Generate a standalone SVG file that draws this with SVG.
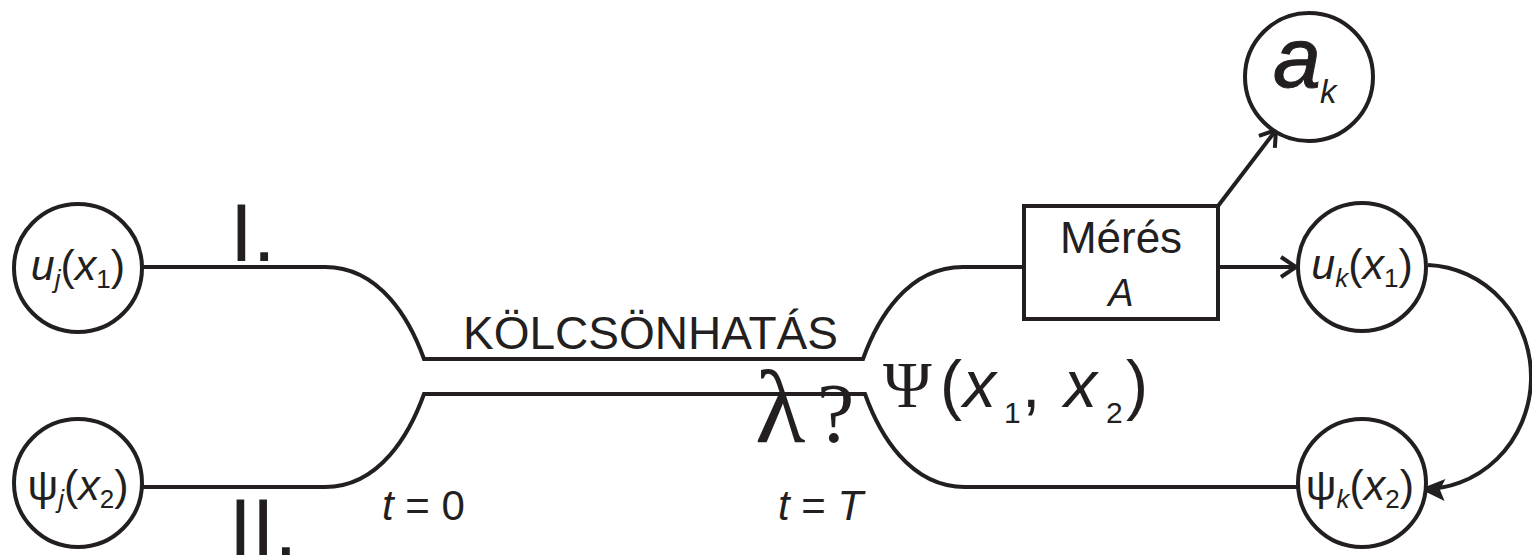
<svg xmlns="http://www.w3.org/2000/svg" width="1532" height="555" viewBox="0 0 1532 555">
<style>
.ln{fill:none;stroke:#231f20;stroke-width:4}
.nd{fill:#fff;stroke:#231f20;stroke-width:4}
.tx{font-family:"Liberation Sans",Arial,sans-serif;fill:#231f20}
.sr{font-family:"Liberation Serif","Times New Roman",serif;fill:#231f20}
.i{font-style:italic}
.nl{font-size:43px}
.sb{font-size:26px}
.th{stroke:#231f20;stroke-width:1}
</style>
<defs>
<marker id="open" viewBox="-17 -12 19 24" refX="0" refY="0" markerWidth="19" markerHeight="24" orient="auto" markerUnits="userSpaceOnUse">
<path d="M-15,-10 L0,0 L-15,10" fill="none" stroke="#231f20" stroke-width="4"/>
</marker>
<marker id="fill" viewBox="-26 -13 28 26" refX="0" refY="0" markerWidth="28" markerHeight="26" orient="auto" markerUnits="userSpaceOnUse">
<path d="M0,0 L-25,-11 L-20,0 L-25,11 Z" fill="#231f20"/>
</marker>
</defs>
<rect width="1532" height="555" fill="#fff"/>
<g id="connectors">
<path class="ln" d="M142,267 L325,267 C380,267 410,320 424,359 L863,359 C877,320 907,267 963,267 L1024,267"/>
<path class="ln" d="M142,487 L325,487 C380,487 410,433 424,394 L865,394 C879,433 909,487 965,487 L1297,487"/>
<path class="ln" d="M1218,267 L1296,267" marker-end="url(#open)"/>
<path class="ln" d="M1218,206 L1276,130" marker-end="url(#open)"/>
<path class="ln" d="M1428,265 A107 112 0 0 1 1420,489" marker-end="url(#fill)"/>
</g>
<g id="node-uj">
<circle class="nd" cx="78" cy="268" r="64"/>
<text class="tx nl" x="78" y="280" text-anchor="middle"><tspan class="i">u</tspan><tspan class="i sb" dy="8">j</tspan><tspan dy="-8">(</tspan><tspan class="i">x</tspan><tspan class="sb" dy="8">1</tspan><tspan dy="-8">)</tspan></text>
</g>
<g id="node-psij">
<circle class="nd" cx="78" cy="483" r="64"/>
<text class="tx nl" x="78" y="500" text-anchor="middle">ψ<tspan class="i sb" dy="8">j</tspan><tspan dy="-8">(</tspan><tspan class="i">x</tspan><tspan class="sb" dy="8">2</tspan><tspan dy="-8">)</tspan></text>
</g>
<g id="node-uk">
<circle class="nd" cx="1362" cy="267" r="64"/>
<text class="tx nl" x="1362" y="279" text-anchor="middle"><tspan class="i">u</tspan><tspan class="i sb" dy="8">k</tspan><tspan dy="-8">(</tspan><tspan class="i">x</tspan><tspan class="sb" dy="8">1</tspan><tspan dy="-8">)</tspan></text>
</g>
<g id="node-psik">
<circle class="nd" cx="1362" cy="483" r="64"/>
<text class="tx nl" x="1360" y="500" text-anchor="middle">ψ<tspan class="i sb" dy="8">k</tspan><tspan dy="-8">(</tspan><tspan class="i">x</tspan><tspan class="sb" dy="8">2</tspan><tspan dy="-8">)</tspan></text>
</g>
<g id="node-ak">
<circle class="nd" cx="1309" cy="77" r="64"/>
<text class="tx i th" x="1273" y="87" font-size="86">a</text>
<text class="tx i" x="1320" y="103" font-size="33">k</text>
</g>
<g id="node-meres">
<rect class="nd" x="1024" y="206" width="194" height="113"/>
<text class="tx" x="1121" y="253" text-anchor="middle" font-size="44">Mérés</text>
<text class="tx i" x="1121" y="306" text-anchor="middle" font-size="38">A</text>
</g>
<g id="labels">
<text class="tx" x="230" y="261" font-size="82">I.</text>
<text class="tx" x="229" y="556" font-size="82">II.</text>
<text class="tx" x="463" y="349" font-size="46">KÖLCSÖNHATÁS</text>
<text class="sr" y="442"><tspan x="755" font-size="104">λ</tspan><tspan x="817" font-size="84">?</tspan></text>
<text class="sr" x="883" y="407" font-size="66">Ψ</text>
<text class="tx" font-size="66" y="407"><tspan x="940">(</tspan><tspan class="i" x="963">x</tspan><tspan x="1004" dy="16" font-size="30">1</tspan><tspan x="1022" dy="-16">,</tspan><tspan class="i" x="1064">x</tspan><tspan x="1106" dy="16" font-size="30">2</tspan><tspan x="1126" dy="-16">)</tspan></text>
<text class="tx" x="382" y="520" font-size="42"><tspan class="i">t</tspan> = 0</text>
<text class="tx" x="778" y="520" font-size="42"><tspan class="i">t</tspan> = <tspan class="i">T</tspan></text>
</g>
</svg>
